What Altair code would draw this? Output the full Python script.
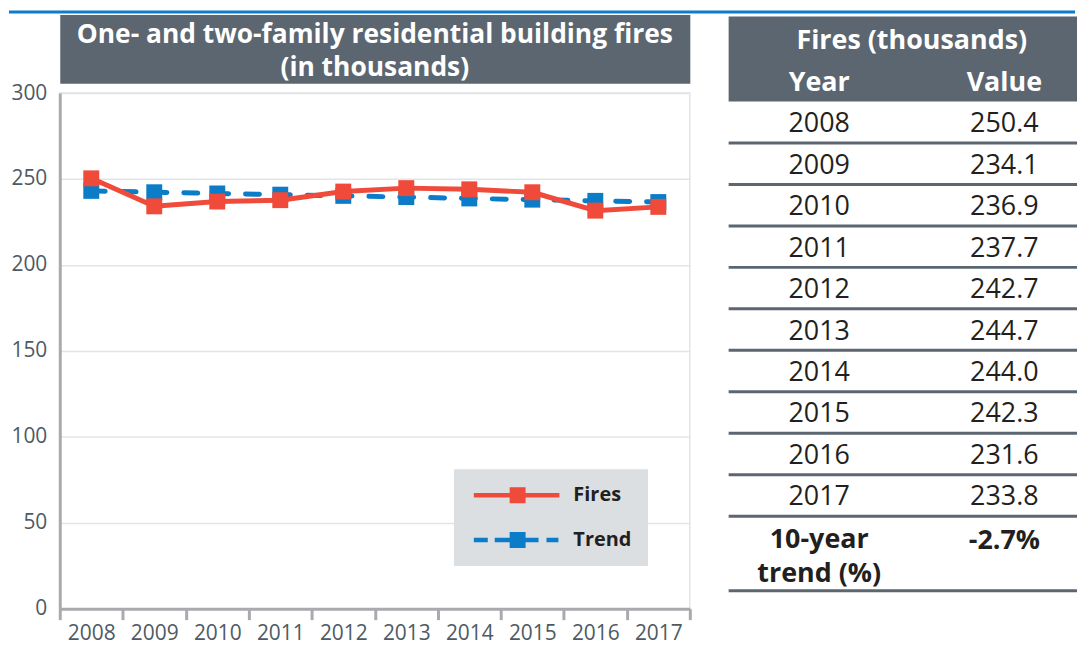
import math
import altair as alt
import pandas as pd

# ---------------- data ----------------
years = [2008, 2009, 2010, 2011, 2012, 2013, 2014, 2015, 2016, 2017]
fires = [250.4, 234.1, 236.9, 237.7, 242.7, 244.7, 244.0, 242.3, 231.6, 233.8]
trend = [243.1, 242.3, 241.6, 240.9, 240.2, 239.5, 238.7, 238.0, 237.3, 236.6]
series_names = ["Fires", "Trend"]
y_ticks = [0, 50, 100, 150, 200, 250, 300]
chart_title = ["One- and two-family residential building fires", "(in thousands)"]
table_title = "Fires (thousands)"
table_columns = ["Year", "Value"]
trend_label = "10-year\ntrend (%)"
trend_value = "-2.7%"

# ---------------- styles ----------------
RED = "#ef4a3a"
BLUE = "#0a7cc8"
SLATE = "#5b6670"
AXIS_GREY = "#a8aaad"
GRID = "#e2e4e6"
LABEL = "#4e5a63"
INK = "#231f20"
LEGEND_BG = "#dcdfe2"
FONT = "Open Sans"

PAGE_W = 1071
LEFT_EXT = 51
PLOT_W, PLOT_H = 633, 518
TITLE_H = 69
TABLE_W = 350
ROW_H = 41.67
TABLE_TOP, TABLE_BOTTOM = -0.1, 13.8
TABLE_FS = 27

# ---------------- legend symbols (filled paths) ----------------
LEG_SIZE = 256
r = math.sqrt(LEG_SIZE) / 2


def u(px):
    return round(px / r, 3)


def rect(x0, x1, h):
    return f"M{u(x0)},{u(-h)}H{u(x1)}V{u(h)}H{u(x0)}Z"


SQ = rect(30, 46, 8)
fires_sym = rect(-6, 80, 2.3) + SQ
trend_sym = rect(-6, 8, 2.3) + rect(15, 59, 2.3) + rect(67, 79, 2.3) + SQ

# ---------------- line chart ----------------
df = pd.DataFrame({
    "year": [str(y) for y in years] * 2,
    "value": fires + trend,
    "series": ["Fires"] * len(years) + ["Trend"] * len(years),
})

color_scale = alt.Scale(domain=series_names, range=[RED, BLUE])

x_axis = alt.Axis(
    title=None, labelAngle=0, labelFont=FONT, labelFontSize=21, labelColor=LABEL,
    domainColor=AXIS_GREY, domainWidth=3, tickColor=AXIS_GREY, tickWidth=3,
    tickSize=11, labelPadding=3, tickBand="extent", grid=False,
)
y_axis = alt.Axis(
    title=None, values=y_ticks, labelFont=FONT, labelFontSize=21, labelColor=LABEL,
    domainColor=AXIS_GREY, domainWidth=3, ticks=False, labelPadding=13,
    gridColor=GRID, gridWidth=1.5,
)

base = alt.Chart(df).encode(
    x=alt.X("year:O", scale=alt.Scale(paddingInner=0, paddingOuter=0), axis=x_axis),
    y=alt.Y("value:Q", scale=alt.Scale(domain=[0, 300]), axis=y_axis),
)

trend_line = base.transform_filter(alt.datum.series == "Trend").mark_line(
    color=BLUE, strokeWidth=5, strokeCap="round", strokeJoin="round", strokeDash=[14, 17]
)
trend_pts = base.transform_filter(alt.datum.series == "Trend").mark_square(
    color=BLUE, size=256, opacity=1
)
fires_line = base.transform_filter(alt.datum.series == "Fires").mark_line(
    color=RED, strokeWidth=5, strokeJoin="round"
)
fires_pts = base.transform_filter(alt.datum.series == "Fires").mark_square(
    color=RED, size=256, opacity=1
)

legend = alt.Legend(
    title=None, orient="none", legendX=396, legendY=461,
    fillColor=LEGEND_BG, padding=16, symbolSize=LEG_SIZE, symbolStrokeWidth=0,
    labelFont=FONT, labelFontSize=20, labelFontWeight="bold",
    labelColor=INK, labelOffset=84, rowPadding=25, symbolOpacity=1,
)
legend_layer = base.transform_filter("false").mark_point(filled=True, opacity=1).encode(
    color=alt.Color("series:N", scale=color_scale, legend=legend),
    shape=alt.Shape("series:N", scale=alt.Scale(domain=series_names,
                                                range=[fires_sym, trend_sym]),
                    legend=legend),
)

plot = alt.layer(trend_line, trend_pts, fires_line, fires_pts, legend_layer).properties(
    width=PLOT_W, height=PLOT_H,
    view=alt.ViewBackground(stroke=GRID, strokeWidth=1.5),
)

# ---------------- title panel ----------------
one = pd.DataFrame({"k": [0]})
title_panel = alt.Chart(one).mark_text(
    text=chart_title, font=FONT, fontSize=26.5, fontWeight="bold", color="white",
    align="center", baseline="middle", lineHeight=33,
).encode(x=alt.value(PLOT_W / 2), y=alt.value(20.5)).properties(
    width=PLOT_W, height=TITLE_H,
    view=alt.ViewBackground(fill=SLATE, stroke="transparent"),
)

top_rule = alt.Chart(one).mark_rect(color=BLUE).encode(
    x=alt.value(-LEFT_EXT), x2=alt.value(PAGE_W - LEFT_EXT), y=alt.value(0), y2=alt.value(3)
).properties(width=PLOT_W, height=3, view=alt.ViewBackground(stroke="transparent"))

# ---------------- table ----------------
cells = []
cells.append({"pos": 0.5, "col": 0.5, "text": table_title, "kind": "head"})
for j, name in enumerate(table_columns):
    cells.append({"pos": 1.5, "col": j, "text": name, "kind": "head"})
for i, (yr, v) in enumerate(zip(years, fires)):
    cells.append({"pos": 2.5 + i, "col": 0, "text": str(yr), "kind": "body"})
    cells.append({"pos": 2.5 + i, "col": 1, "text": f"{v:.1f}", "kind": "body"})
cells_df = pd.DataFrame(cells)
trend_df = pd.DataFrame([
    {"pos": 12.57, "col": 0, "text": trend_label},
    {"pos": 12.6, "col": 1, "text": trend_value},
])
n_body = len(years)
rule_df = pd.DataFrame({"pos": [3 + i for i in range(n_body)] + [TABLE_BOTTOM]})
head_df = pd.DataFrame({"pos": [-0.05], "pos2": [2]})

ty = alt.Scale(domain=[TABLE_TOP, TABLE_BOTTOM], reverse=True, nice=False, zero=False)
tx = alt.Scale(domain=[0, 1], range=[91, 277], nice=False, zero=False)

head_rect = alt.Chart(head_df).mark_rect(color=SLATE).encode(
    y=alt.Y("pos:Q", scale=ty, axis=None), y2="pos2:Q",
    x=alt.value(0), x2=alt.value(TABLE_W),
)
rules = alt.Chart(rule_df).mark_rule(color=SLATE, strokeWidth=3).encode(
    y=alt.Y("pos:Q", scale=ty, axis=None), x=alt.value(0), x2=alt.value(TABLE_W),
)
head_text = alt.Chart(cells_df).transform_filter(alt.datum.kind == "head").mark_text(
    font=FONT, fontSize=TABLE_FS, fontWeight="bold", color="white", baseline="middle", dy=2
).encode(
    y=alt.Y("pos:Q", scale=ty, axis=None), x=alt.X("col:Q", scale=tx, axis=None),
    text="text:N",
)
body_text = alt.Chart(cells_df).transform_filter(alt.datum.kind == "body").mark_text(
    font=FONT, fontSize=TABLE_FS, color=INK, baseline="middle", dy=2
).encode(
    y=alt.Y("pos:Q", scale=ty, axis=None), x=alt.X("col:Q", scale=tx, axis=None),
    text="text:N",
)
trend_text = alt.Chart(trend_df).mark_text(
    font=FONT, fontSize=TABLE_FS, fontWeight="bold", color=INK, baseline="middle",
    lineBreak="\n", lineHeight=34,
).encode(
    y=alt.Y("pos:Q", scale=ty, axis=None), x=alt.X("col:Q", scale=tx, axis=None),
    text="text:N",
)
table = alt.layer(head_rect, rules, head_text, body_text, trend_text).properties(
    width=TABLE_W, height=round((TABLE_BOTTOM - TABLE_TOP) * ROW_H),
    view=alt.ViewBackground(stroke="transparent"),
)

left = alt.vconcat(title_panel, plot, spacing=10, bounds="flush")
body = alt.hconcat(left, table, spacing=34)
chart = alt.vconcat(top_rule, body, spacing=1, bounds="flush").properties(
    padding=0, background="white"
)

chart.save("out.html", embed_options={"renderer": "svg", "actions": False})
